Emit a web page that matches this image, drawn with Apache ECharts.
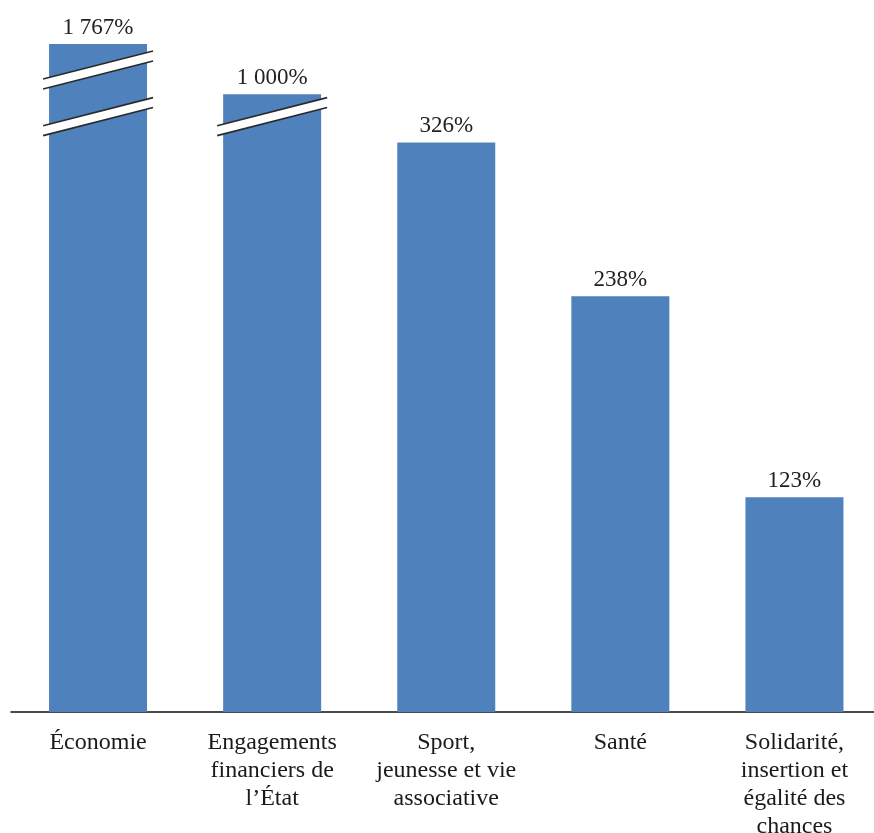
<!DOCTYPE html>
<html>
<head>
<meta charset="utf-8">
<script src="https://cdn.jsdelivr.net/npm/echarts@6/dist/echarts.min.js"></script>
<style>
  html, body { margin: 0; padding: 0; background: #fff; }
  #chart { width: 874px; height: 833px; }
</style>
</head>
<body>
<div id="chart"></div>
<script>
// données
var categories = [
  'Économie',
  'Engagements\nfinanciers de\nl’État',
  'Sport,\njeunesse et vie\nassociative',
  'Santé',
  'Solidarité,\ninsertion et\négalité des\nchances'
];
var values = [1767, 1000, 326, 238, 123];

// coupures de l'axe (valeurs)
var breakLow = [338, 990];
var breakHigh = [1011, 1755];
// marqueurs de coupure : [catégorie, début, fin]
var breakMarks = [
  [0, breakLow[0], breakLow[1]],
  [1, breakLow[0], breakLow[1]],
  [0, breakHigh[0], breakHigh[1]]
];

var BAR_W = 98;
var FONT = '"Liberation Serif", "DejaVu Serif", serif';

function fmtPct(v) {
  var s = String(v);
  if (s.length > 3) s = s.slice(0, s.length - 3) + ' ' + s.slice(-3);
  return s + '%';
}

var chart = echarts.init(document.getElementById('chart'));

var option = {
  backgroundColor: '#fff',
  animation: false,
  grid: {
    left: 11, top: 44, width: 870.5, height: 668,
    containLabel: false,
    outerBoundsMode: 'none'
  },
  xAxis: {
    type: 'category',
    data: categories,
    axisLine: { show: true, lineStyle: { color: '#111', width: 1.5 } },
    axisTick: { show: false },
    axisLabel: {
      interval: 0,
      margin: 17,
      fontFamily: FONT,
      fontSize: 24,
      lineHeight: 28,
      color: '#1a1a1a',
      align: 'center'
    }
  },
  yAxis: {
    type: 'value',
    min: 0,
    max: 1767,
    show: true,
    axisLine: { show: false },
    axisTick: { show: false },
    axisLabel: { show: false },
    splitLine: { show: false },
    breaks: [
      { start: breakLow[0], end: breakLow[1], gap: 5.72 },
      { start: breakHigh[0], end: breakHigh[1], gap: 5.72 }
    ],
    breakArea: { show: false }
  },
  series: [
    {
      type: 'bar',
      data: values,
      barWidth: BAR_W,
      itemStyle: { color: '#4f81bd' },
      label: {
        show: true,
        position: 'top',
        distance: 5,
        fontFamily: FONT,
        fontSize: 23,
        color: '#222',
        formatter: function (p) { return fmtPct(p.value); }
      }
    },
    {
      type: 'custom',
      z: 5,
      silent: true,
      data: breakMarks,
      encode: { x: 0, y: [1, 2] },
      renderItem: function (params, api) {
        var cat = api.value(0);
        var lo = api.coord([cat, api.value(1)]);
        var hi = api.coord([cat, api.value(2)]);
        var cx = lo[0];
        var cy = (lo[1] + hi[1]) / 2;
        var half = Math.max(4.5, (lo[1] - hi[1]) / 2);
        var w = BAR_W / 2 + 6;
        var rise = w * 0.255;
        var x0 = cx - w, x1 = cx + w;
        var tl = [x0, cy - half + rise], tr = [x1, cy - half - rise];
        var bl = [x0, cy + half + rise], br = [x1, cy + half - rise];
        var ls = { stroke: '#2a2a2a', lineWidth: 1.6 };
        return {
          type: 'group',
          children: [
            { type: 'polygon', shape: { points: [tl, tr, br, bl] }, style: { fill: '#fff' } },
            { type: 'line', shape: { x1: tl[0], y1: tl[1], x2: tr[0], y2: tr[1] }, style: ls },
            { type: 'line', shape: { x1: bl[0], y1: bl[1], x2: br[0], y2: br[1] }, style: ls }
          ]
        };
      }
    }
  ]
};

chart.setOption(option);
</script>
</body>
</html>
